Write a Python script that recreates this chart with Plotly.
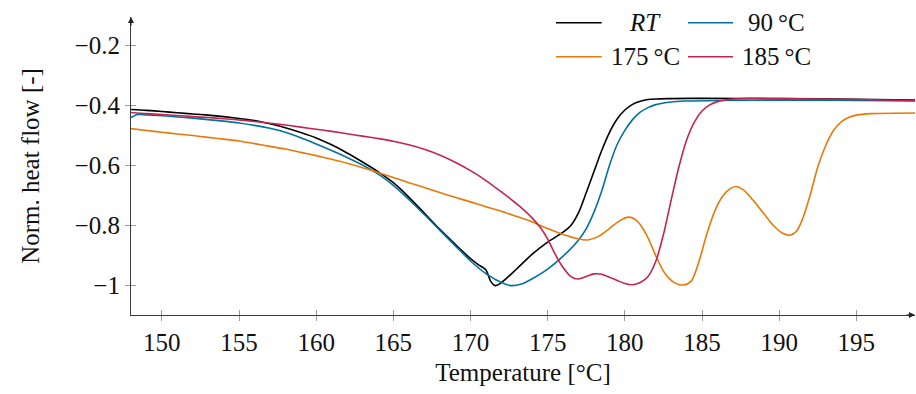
import plotly.graph_objects as go

# ---------------- data ----------------
rt_T = [148, 149, 150, 151, 152, 153, 154, 155, 156, 157, 158, 159, 160, 161, 162, 163, 164, 165, 166,
        167, 168, 169, 170, 170.5, 171.0, 171.3, 171.6, 172, 173, 174, 175, 176, 176.5, 177, 177.5,
        178, 178.5, 179, 179.5, 180, 180.5, 181, 181.5, 182, 183, 185, 190, 195, 198.8]
rt_v = [-0.413, -0.416, -0.42, -0.424, -0.428, -0.432, -0.437, -0.443, -0.45, -0.461, -0.474, -0.49,
        -0.508, -0.531, -0.558, -0.588, -0.62, -0.657, -0.705, -0.758, -0.812, -0.862, -0.91, -0.93,
        -0.948, -0.985, -1.0, -0.99, -0.944, -0.895, -0.855, -0.822, -0.8, -0.757, -0.69, -0.62, -0.55,
        -0.49, -0.445, -0.415, -0.396, -0.386, -0.38, -0.378, -0.377, -0.376, -0.377, -0.379, -0.382]

c90_T = [148, 148.4, 149, 150, 151, 152, 153, 154, 155, 156, 157, 158, 159, 160, 161, 162, 163, 164,
         165, 166, 167, 168, 169, 170, 171, 172, 172.6, 173.3, 174, 175, 176, 177, 177.5, 178, 178.5,
         179, 179.5, 180, 180.5, 181, 181.5, 182, 183, 184, 186, 190, 195, 198.8]
c90_v = [-0.44, -0.43, -0.431, -0.434, -0.438, -0.442, -0.447, -0.452, -0.458, -0.466, -0.476, -0.489,
         -0.507, -0.528, -0.55, -0.573, -0.598, -0.628, -0.666, -0.713, -0.763, -0.815, -0.867, -0.918,
         -0.96, -0.99, -1.0, -0.995, -0.977, -0.945, -0.902, -0.848, -0.81, -0.755, -0.685, -0.6, -0.53,
         -0.483, -0.447, -0.422, -0.407, -0.397, -0.388, -0.385, -0.383, -0.382, -0.383, -0.385]

c175_T = [148, 149, 150, 151, 152, 153, 154, 155, 156, 157, 158, 159, 160, 161, 162, 163, 164, 165,
          166, 167, 168, 169, 170, 171, 172, 173, 174, 175, 176, 177, 177.6, 178.3, 179, 179.6, 180.25,
          180.8, 181.4, 182, 182.6, 183.2, 183.8, 184.3, 184.8, 185.3, 185.8, 186.3, 186.8, 187.2,
          187.7, 188.3, 189, 189.6, 190.2, 190.7, 191.1, 191.5, 192, 192.5, 193, 193.5, 194, 194.5,
          195, 196, 198.8]
c175_v = [-0.477, -0.483, -0.489, -0.495, -0.5, -0.506, -0.512, -0.518, -0.527, -0.536, -0.545, -0.556,
          -0.567, -0.579, -0.592, -0.607, -0.623, -0.64, -0.657, -0.673, -0.69, -0.706, -0.721, -0.737,
          -0.752, -0.77, -0.788, -0.81, -0.83, -0.845, -0.848, -0.836, -0.81, -0.786, -0.772, -0.785,
          -0.83, -0.9, -0.96, -0.99, -0.998, -0.985, -0.92, -0.83, -0.755, -0.705, -0.678, -0.67,
          -0.682, -0.715, -0.76, -0.798, -0.825, -0.832, -0.82, -0.78, -0.7, -0.605, -0.535, -0.485,
          -0.455, -0.44, -0.432, -0.427, -0.425]

c185_T = [148, 149, 150, 151, 152, 153, 154, 155, 156, 157, 158, 159, 160, 161, 162, 163, 164, 165,
          166, 167, 168, 169, 170, 171, 172, 173, 174, 174.5, 175, 175.5, 176, 176.5, 177, 177.5, 178,
          178.5, 179, 179.5, 180, 180.5, 181, 181.5, 182, 182.5, 183, 183.5, 184, 184.5, 185, 185.5,
          186, 186.7, 188, 190, 195, 198.8]
c185_v = [-0.423, -0.427, -0.43, -0.433, -0.437, -0.44, -0.444, -0.448, -0.453, -0.459, -0.465, -0.472,
          -0.479, -0.486, -0.494, -0.502, -0.51, -0.519, -0.531, -0.546, -0.565, -0.589, -0.617, -0.65,
          -0.688, -0.728, -0.775, -0.805, -0.845, -0.897, -0.94, -0.97, -0.978, -0.97, -0.961, -0.962,
          -0.972, -0.983, -0.993, -0.997, -0.99, -0.97, -0.92, -0.83, -0.715, -0.605, -0.515, -0.455,
          -0.418, -0.398, -0.387, -0.38, -0.376, -0.377, -0.38, -0.383]

series_names = ["<i>RT</i>", "90\u2009°C", "175\u2009°C", "185\u2009°C"]
series_colors = ["#000000", "#00739C", "#E8780A", "#C4234E"]

x_ticks = [150, 155, 160, 165, 170, 175, 180, 185, 190, 195]
y_ticks = [-1.0, -0.8, -0.6, -0.4, -0.2]
y_ticktext = ["\u22121", "\u22120.8", "\u22120.6", "\u22120.4", "\u22120.2"]

x_range = [148, 198.8]
y_range = [-1.098, -0.105]

# ---------------- figure ----------------
FONT = "Liberation Serif, Times New Roman, serif"
W, H = 916, 394
ML, MR, MT, MB = 131, 1, 17, 79
PW, PH = W - ML - MR, H - MT - MB

fig = go.Figure()
all_data = [(rt_T, rt_v), (c90_T, c90_v), (c175_T, c175_v), (c185_T, c185_v)]
for (xs, ys), name, col in zip(all_data, series_names, series_colors):
    fig.add_trace(go.Scatter(x=xs, y=ys, mode="lines", name=name,
                             line=dict(color=col, width=1.6, shape="spline", smoothing=0.8),
                             showlegend=False))

# overlay axes for inward half of the crossing ticks
fig.add_trace(go.Scatter(x=[], y=[], xaxis="x2", yaxis="y2", showlegend=False))

axis_common = dict(showgrid=False, zeroline=False, ticks="outside", ticklen=5, tickwidth=1,
                   tickcolor="#9a9a9a", tickfont=dict(family=FONT, size=25, color="#111"))

fig.update_layout(
    width=W, height=H, autosize=False,
    margin=dict(l=ML, r=MR, t=MT, b=MB),
    paper_bgcolor="white", plot_bgcolor="white",
    font=dict(family=FONT, size=25, color="#111"),
    xaxis=dict(range=x_range, tickvals=x_ticks, showline=True, linecolor="#3a3a3a", linewidth=1.1,
               title=dict(text="Temperature [°C]", font=dict(family=FONT, size=25), standoff=8),
               **axis_common),
    yaxis=dict(range=y_range, tickvals=y_ticks, ticktext=y_ticktext, showline=True,
               linecolor="#3a3a3a", linewidth=1.1,
               title=dict(text="Norm. heat flow [-]", font=dict(family=FONT, size=25), standoff=27),
               **axis_common),
    xaxis2=dict(range=x_range, tickvals=x_ticks, overlaying="x", anchor="y2", matches="x",
                showgrid=False, zeroline=False, showline=False, showticklabels=False,
                ticks="inside", ticklen=5, tickwidth=1, tickcolor="#9a9a9a"),
    yaxis2=dict(range=y_range, tickvals=y_ticks, overlaying="y", anchor="x2", matches="y",
                showgrid=False, zeroline=False, showline=False, showticklabels=False,
                ticks="inside", ticklen=5, tickwidth=1, tickcolor="#9a9a9a"),
)

# axis arrowheads
fig.add_annotation(x=1, y=0, xref="paper", yref="paper", ax=-10, ay=0, text="",
                   showarrow=True, arrowhead=2, arrowsize=1.1, arrowwidth=1.1, arrowcolor="#222")
fig.add_annotation(x=0, y=1, xref="paper", yref="paper", ax=0, ay=10, text="",
                   showarrow=True, arrowhead=2, arrowsize=1.1, arrowwidth=1.1, arrowcolor="#222")

# manual legend (2 x 2)
def px(xp):
    return (xp - ML) / PW

def py(yp):
    return (MT + PH - yp) / PH

legend_cells = [(556, 601.7, 645, 22.7), (688, 733, 776, 22.7),
                (556, 601.7, 645, 56.7), (688, 733, 776, 56.7)]
for (x0, x1, xt, yl), name, col in zip(legend_cells, series_names, series_colors):
    fig.add_shape(type="line", xref="paper", yref="paper", x0=px(x0), x1=px(x1), y0=py(yl), y1=py(yl),
                  line=dict(color=col, width=1.6))
    fig.add_annotation(x=px(xt), y=py(yl - 0.5), xref="paper", yref="paper", text=name,
                       showarrow=False, xanchor="center", yanchor="middle",
                       font=dict(family=FONT, size=25, color="#111"))

fig.write_html("out.html")
